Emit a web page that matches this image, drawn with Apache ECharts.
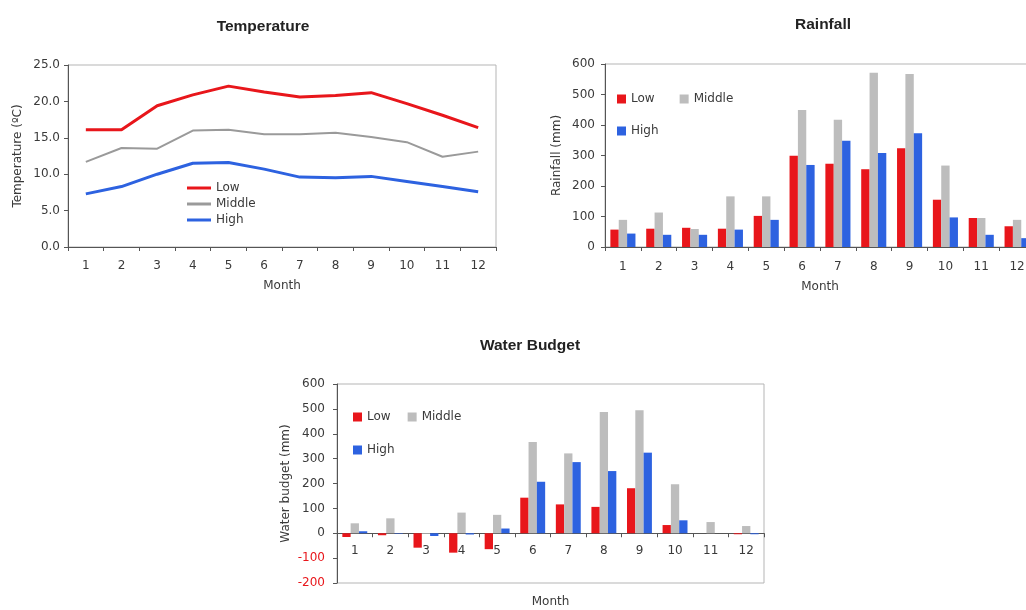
<!DOCTYPE html>
<html>
<head>
<meta charset="utf-8">
<script src="https://cdn.jsdelivr.net/npm/echarts@6/dist/echarts.min.js"></script>
<style>
html,body{margin:0;padding:0;background:#fff;}
#chart{width:1026px;height:610px;}
</style>
</head>
<body>
<div id="chart"></div>
<script>
// ---- data ----
var months = ['1','2','3','4','5','6','7','8','9','10','11','12'];
var seriesNames = ['Low', 'Middle', 'High'];

var tempLow    = [16.1, 16.1, 19.4, 20.9, 22.1, 21.3, 20.6, 20.8, 21.2, 19.7, 18.1, 16.4];
var tempMiddle = [11.7, 13.6, 13.5, 16.0, 16.1, 15.5, 15.5, 15.7, 15.1, 14.4, 12.4, 13.1];
var tempHigh   = [7.3, 8.3, 10.0, 11.5, 11.6, 10.7, 9.6, 9.5, 9.7, 9.0, 8.3, 7.6];

var rainLow    = [57, 60, 63, 60, 102, 299, 273, 255, 324, 155, 95, 68];
var rainMiddle = [89, 113, 59, 166, 166, 449, 417, 571, 567, 267, 95, 89];
var rainHigh   = [44, 40, 40, 57, 89, 269, 348, 308, 373, 97, 40, 29];

var wbLow    = [-15, -8, -58, -78, -64, 143, 116, 106, 181, 33, 0, -4];
var wbMiddle = [40, 60, -3, 83, 74, 367, 321, 487, 494, 197, 45, 29];
var wbHigh   = [8, -2, -11, -5, 19, 207, 286, 250, 324, 52, 0, -4];

// ---- styles ----
var FONT = 'DejaVu Sans';
var TXT = '#3a3a3a';
var AX = '#555';
var RED = '#e8161b', GRAY = '#bdbdbd', GRAYLINE = '#9a9a9a', BLUE = '#2d62e0';
var BAR_COLORS = {Low: RED, Middle: GRAY, High: BLUE};

var WB_MIN = -200, WB_MAX = 600, WB_H = 199;

var chart = echarts.init(document.getElementById('chart'), null, {renderer: 'canvas'});

function xAxis(grid, gap, margin, offset) {
  return {
    type: 'category', gridIndex: grid, data: months, boundaryGap: true,
    name: 'Month', nameLocation: 'middle', nameGap: gap,
    nameTextStyle: {fontFamily: FONT, fontSize: 12, color: TXT},
    offset: offset || 0,
    axisLine: {show: true, onZero: false, lineStyle: {color: AX, width: 1}},
    axisTick: {show: true, alignWithLabel: false, length: 4, lineStyle: {color: AX}},
    axisLabel: {fontFamily: FONT, fontSize: 12, color: TXT, margin: margin, interval: 0},
    splitLine: {show: false}
  };
}
function yAxis(grid, name, gap, min, max, interval, fmt, margin) {
  return {
    type: 'value', gridIndex: grid, min: min, max: max, interval: interval,
    name: name, nameLocation: 'middle', nameGap: gap,
    nameTextStyle: {fontFamily: FONT, fontSize: 12, color: TXT},
    axisLine: {show: true, lineStyle: {color: AX, width: 1}},
    axisTick: {show: true, length: 4, lineStyle: {color: AX}},
    axisLabel: {fontFamily: FONT, fontSize: 12, color: TXT, margin: margin, formatter: fmt,
      rich: {n: {color: '#e8161b', fontFamily: FONT, fontSize: 12}}},
    splitLine: {show: false}
  };
}
function titleAt(text, x, y) {
  return {text: text, left: x, top: y, textAlign: 'center',
    textStyle: {fontFamily: 'Liberation Sans', fontWeight: 'bold', fontSize: 15.5, color: '#222'}};
}
function lineSeries(name, data, color, width) {
  return {type: 'line', name: name, xAxisIndex: 0, yAxisIndex: 0, data: data,
    symbol: 'none', lineStyle: {color: color, width: width}, itemStyle: {color: color}};
}
function barSeries(idx, name, data, color) {
  return {type: 'bar', name: name, xAxisIndex: idx, yAxisIndex: idx, data: data,
    itemStyle: {color: color}, barGap: '0%', barCategoryGap: '30%'};
}
var legendText = {fontFamily: FONT, fontSize: 12, color: TXT};
function gridAt(l, t, w, h) {
  return {left: l, top: t, width: w, height: h, show: true, borderColor: '#b5b5b5', borderWidth: 1,
    containLabel: false, outerBoundsMode: 'none'};
}
function barLegend(left, top, names, gap) {
  return {orient: 'horizontal', left: left, top: top, padding: 0, itemWidth: 9, itemHeight: 9,
    itemGap: gap, icon: 'rect',
    data: names.map(function (n) { return {name: n, itemStyle: {color: BAR_COLORS[n]}}; }),
    textStyle: legendText, selectedMode: false};
}

// x axis of the water budget chart sits on the zero line
var wbZeroOffset = -WB_H * (0 - WB_MIN) / (WB_MAX - WB_MIN);

var option = {
  backgroundColor: '#fff',
  animation: false,
  title: [
    titleAt('Temperature', 258, 14),
    titleAt('Rainfall', 818, 12),
    titleAt('Water Budget', 525, 333)
  ],
  grid: [
    gridAt(68, 65, 428, 182),
    gridAt(605, 64, 430, 183),
    gridAt(337, 384, 427, WB_H)
  ],
  xAxis: [xAxis(0, 33, 13), xAxis(1, 34, 14), xAxis(2, 63, 12, wbZeroOffset)],
  yAxis: [
    yAxis(0, 'Temperature (ºC)', 44, 0, 25, 5, function (v) { return v.toFixed(1); }, 8),
    yAxis(1, 'Rainfall (mm)', 42, 0, 600, 100, function (v) { return String(v); }, 10),
    yAxis(2, 'Water budget (mm)', 45, WB_MIN, WB_MAX, 100, function (v) { return v < 0 ? '{n|' + v + '}' : String(v); }, 12)
  ],
  legend: [
    {orient: 'vertical', left: 187, top: 182, padding: 0, itemWidth: 24, itemHeight: 3, itemGap: 4, icon: 'rect',
      data: seriesNames, textStyle: legendText, selectedMode: false},
    barLegend(617, 93, ['Low', 'Middle'], 25),
    barLegend(617, 125, ['High'], 10),
    barLegend(353, 411, ['Low', 'Middle'], 17),
    barLegend(353, 444, ['High'], 10)
  ],
  series: [
    lineSeries('Low', tempLow, RED, 3),
    lineSeries('Middle', tempMiddle, GRAYLINE, 2),
    lineSeries('High', tempHigh, BLUE, 3),
    barSeries(1, 'Low', rainLow, RED),
    barSeries(1, 'Middle', rainMiddle, GRAY),
    barSeries(1, 'High', rainHigh, BLUE),
    barSeries(2, 'Low', wbLow, RED),
    barSeries(2, 'Middle', wbMiddle, GRAY),
    barSeries(2, 'High', wbHigh, BLUE)
  ]
};
chart.setOption(option);
</script>
</body>
</html>
